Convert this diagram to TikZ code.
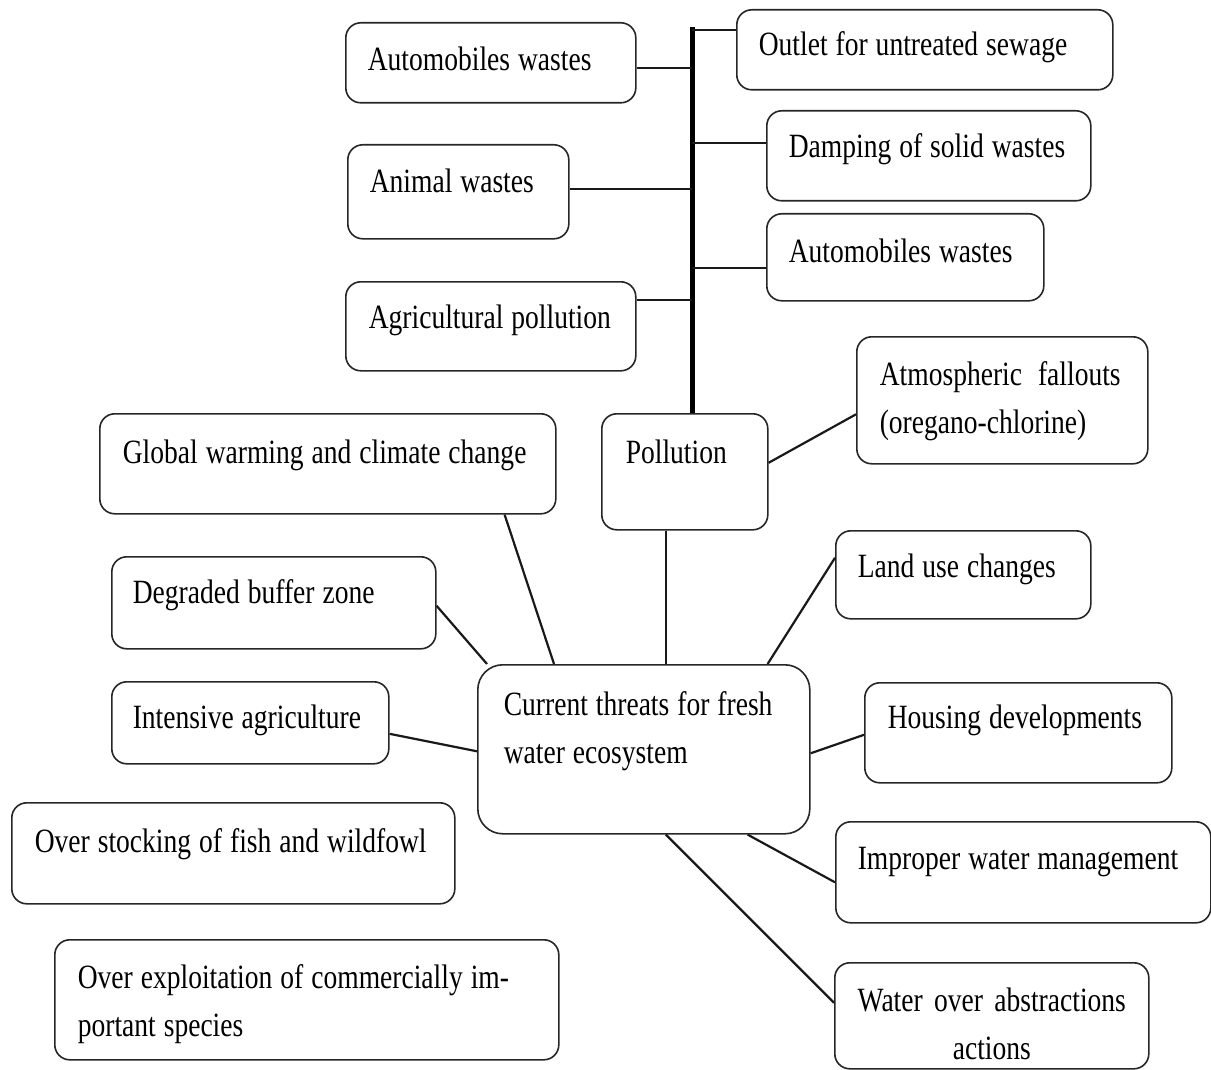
\documentclass[tikz,border=0pt]{standalone}
\usepackage{fontspec}
\setmainfont{Liberation Serif}[FakeStretch=0.81]
\usetikzlibrary{calc}
\newcommand{\threatfont}{\fontsize{34}{48}\selectfont
  \fontdimen2\font=8pt \fontdimen3\font=1pt \fontdimen4\font=2pt\relax}

\tikzset{
  tbox/.style={draw=black!85, line width=1.6pt, rounded corners=15pt,
    anchor=north west, inner ysep=0pt},
  threat/.style={tbox, align=flush left,
    execute at begin node={\rightskip=-200pt plus 1fil\relax}},
  link/.style={line width=2.2pt, black!90},
  trunk/.style={line width=5pt, black},
}

\begin{document}
\begin{tikzpicture}[x=1pt, y=-1pt, every node/.style={font=\threatfont}]
  \useasboundingbox (0,0) rectangle (1211,1070);
  % pollution sources round the trunk
  \node[threat, inner xsep=22pt, text width=246pt, text height=48pt, text depth=32pt] (autoL) at (345,22) {Automobiles wastes};
  \node[threat, inner xsep=22pt, text width=177pt, text height=48pt, text depth=46pt] (anim) at (347,144) {Animal wastes};
  \node[threat, inner xsep=23pt, text width=244pt, text height=47pt, text depth=42pt] (agri) at (345,281) {Agricultural pollution};
  \node[threat, inner xsep=22pt, text width=332pt, text height=46pt, text depth=34pt] (outS) at (736,9) {Outlet for untreated sewage};
  \node[threat, inner xsep=22pt, text width=280pt, text height=47pt, text depth=43pt] (damp) at (766,110) {Damping of solid wastes};
  \node[threat, inner xsep=22pt, text width=233pt, text height=49pt, text depth=38pt] (autoR) at (766,213) {Automobiles wastes};
  \node[threat, inner xsep=23pt, text width=245pt, text height=49pt, text depth=78pt] (atm) at (856,336) {Atmospheric\ \ fallouts\\(oregano-chlorine)};
  \node[threat, inner xsep=24pt, text width=118pt, text height=50pt, text depth=66pt] (pol) at (601,413) {Pollution};
  % other threats
  \node[threat, inner xsep=23pt, text width=410pt, text height=50pt, text depth=50pt] (glob) at (99,413) {Global warming and climate change};
  \node[threat, inner xsep=21pt, text width=282pt, text height=47pt, text depth=45pt] (deg) at (111,556) {Degraded buffer zone};
  \node[threat, inner xsep=22pt, text width=211pt, text height=47pt, text depth=41pt] (land) at (835,530) {Land use changes};
  \node[threat, inner xsep=21pt, text width=235pt, text height=47pt, text depth=35pt] (int) at (111,681) {Intensive agriculture};
  \node[threat, rounded corners=25pt, inner xsep=26pt, text width=280pt, text height=51pt, text depth=118pt] (cur) at (477,664) {Current threats for fresh\\water ecosystem};
  \node[threat, inner xsep=23pt, text width=261pt, text height=46pt, text depth=54pt] (hous) at (864,682) {Housing developments};
  \node[threat, inner xsep=23pt, text width=397pt, text height=50pt, text depth=51pt] (over) at (11,802) {Over stocking of fish and wildfowl};
  \node[threat, inner xsep=22pt, text width=331pt, text height=48pt, text depth=53pt] (imp) at (835,821) {Improper water management};
  \node[threat, inner xsep=23pt, text width=458pt, text height=49pt, text depth=71pt] (expl) at (54,939) {Over exploitation of commercially im-\\portant species};
  \node[tbox, align=center, inner xsep=0pt, text width=314pt, text height=49pt, text depth=57pt] (wat) at (834,962) {Water over abstractions\\actions};

  % trunk and its branches
  \coordinate (bustop) at (692,30);
  \coordinate (jAL) at (692,68);
  \coordinate (jD)  at (692,143);
  \coordinate (jAn) at (692,189);
  \coordinate (jAR) at (692,268);
  \coordinate (jAg) at (692,300);
  \draw[trunk] ([yshift=2.5pt]bustop) -- (bustop |- pol.north);
  \draw[link] (bustop) -- (bustop -| outS.west);
  \draw[link] (autoL.east |- jAL) -- (jAL);
  \draw[link] (anim.east |- jAn) -- (jAn);
  \draw[link] (agri.east |- jAg) -- (jAg);
  \draw[link] (jD) -- (jD -| damp.west);
  \draw[link] (jAR) -- (jAR -| autoR.west);

  % links to the central box
  \draw[link] ([yshift=9pt]pol.east) -- ([yshift=-14pt]atm.west);
  \draw[link] ([xshift=-19pt]pol.south) -- ([xshift=-19pt]pol.south |- cur.north);
  \draw[link] ([xshift=-52pt]glob.south east) -- ([xshift=77pt]cur.north west);
  \draw[link] ([yshift=-3pt]deg.east) -- ([xshift=10pt]cur.north west);
  \draw[link] ([yshift=-11pt]int.east) -- ([yshift=-2pt]cur.west);
  \draw[link] ([yshift=17pt]land.west) -- ([xshift=-43pt]cur.north east);
  \draw[link] ([yshift=-2pt]hous.west) -- ([yshift=-4pt]cur.east);
  \draw[link] ([yshift=-10pt]imp.west) -- ([xshift=-63pt]cur.south east);
  \draw[link] ([yshift=13pt]wat.west) -- ([xshift=22pt]cur.south);
\end{tikzpicture}
\end{document}
